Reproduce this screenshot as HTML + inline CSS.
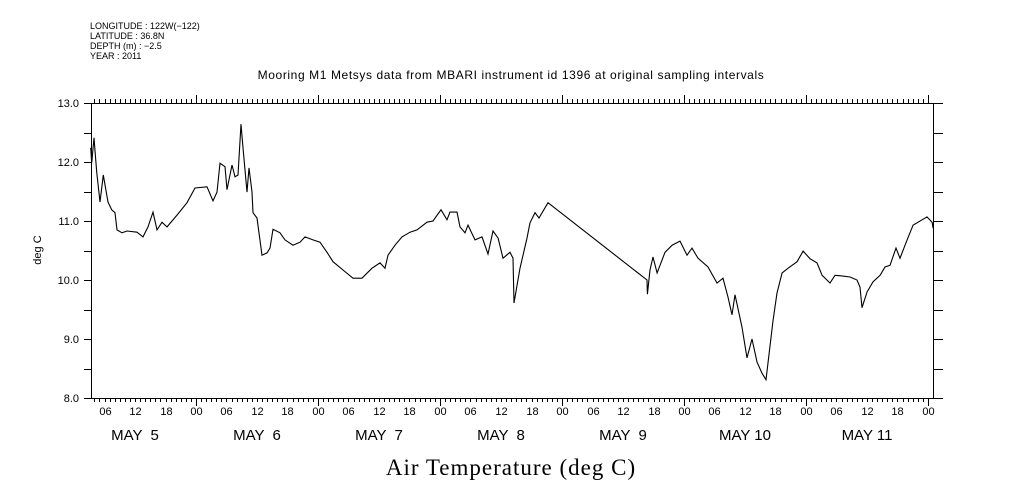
<!DOCTYPE html>
<html><head><meta charset="utf-8"><style>
body{margin:0;background:#fff;}
svg{display:block;font-family:"Liberation Sans",sans-serif;}
</style></head><body>
<svg id="chart" width="1009" height="504" viewBox="0 0 1009 504">
<g font-size="9" fill="#000">
<text x="90" y="29">LONGITUDE : 122W(−122)</text>
<text x="90" y="39">LATITUDE : 36.8N</text>
<text x="90" y="49">DEPTH (m) : −2.5</text>
<text x="90" y="59">YEAR : 2011</text>
</g>
<text x="511" y="79" font-size="12" text-anchor="middle" letter-spacing="0.6">Mooring M1 Metsys data from MBARI instrument id 1396 at original sampling intervals</text>
<text x="41" y="250" font-size="11" text-anchor="middle" transform="rotate(-90 41 250)">deg C</text>
<text x="511" y="475" font-size="23" text-anchor="middle" font-family="Liberation Serif, serif" letter-spacing="1">Air Temperature (deg C)</text>
<g id="axes"></g>
<g id="series"></g>
</svg>
<script>
const times=[3.29,3.48,3.93,4.47,5.12,5.76,6.69,7.42,8.07,8.46,9.44,10.43,12.39,13.57,14.56,15.54,16.33,17.31,18.30,20.26,22.23,23.80,26.17,27.35,28.13,28.72,29.71,30.10,31.08,31.67,32.26,32.85,33.25,34.03,34.43,35.02,35.21,36.00,36.99,37.97,38.56,39.15,40.53,41.51,43.08,44.46,45.44,47.02,48.40,49.77,50.95,52.92,54.89,56.66,58.63,60.20,61.18,61.77,63.15,64.53,66.10,67.48,69.45,70.63,72.20,73.38,73.97,75.35,75.94,76.92,77.51,78.89,80.27,81.45,82.43,83.42,84.40,85.78,86.37,86.56,87.74,89.12,89.71,90.69,91.48,93.25,112.73,112.8,113.32,113.91,114.70,116.27,117.65,119.22,120.60,121.58,122.76,124.73,126.50,127.68,128.66,129.45,130.04,131.41,132.40,133.38,134.37,135.35,136.14,137.52,138.30,139.29,140.47,142.24,143.42,144.80,146.17,147.16,148.73,149.71,151.09,152.66,154.04,154.63,155.02,156.01,157.19,158.57,159.55,160.53,161.71,162.50,163.88,165.06,166.83,167.81,168.80,169.0];
const temps=[12.24,11.98,12.41,11.83,11.32,11.78,11.32,11.19,11.14,10.85,10.80,10.83,10.81,10.73,10.90,11.15,10.85,10.98,10.90,11.10,11.31,11.56,11.58,11.34,11.49,11.98,11.92,11.53,11.95,11.75,11.78,12.64,12.24,11.49,11.90,11.49,11.14,11.05,10.42,10.46,10.54,10.86,10.80,10.68,10.59,10.64,10.73,10.68,10.64,10.47,10.31,10.17,10.03,10.03,10.20,10.29,10.20,10.42,10.59,10.73,10.81,10.85,10.98,11.00,11.19,11.02,11.15,11.15,10.90,10.80,10.93,10.68,10.73,10.44,10.83,10.71,10.37,10.47,10.37,9.61,10.20,10.71,10.97,11.14,11.05,11.31,10.00,9.76,10.17,10.39,10.12,10.47,10.59,10.66,10.42,10.54,10.37,10.22,9.95,10.03,9.71,9.41,9.75,9.20,8.68,9.00,8.61,8.42,8.31,9.32,9.78,10.12,10.20,10.31,10.49,10.36,10.29,10.08,9.95,10.08,10.07,10.05,10.00,9.88,9.53,9.80,9.97,10.08,10.22,10.25,10.54,10.37,10.68,10.93,11.02,11.07,10.98,10.88];
const yTickLabels=["8.0","9.0","10.0","11.0","12.0","13.0"];
const yTickValues=[8,9,10,11,12,13];
const dayLabels=["MAY  5","MAY  6","MAY  7","MAY  8","MAY  9","MAY 10","MAY 11"];
const hourLabels=["00","06","12","18"];

const NS="http://www.w3.org/2000/svg";
const L=91,R=933,T=103,B=398;
const tMin=(L-74)/(122/24), tMax=(R-74)/(122/24);
const vMin=8,vMax=13;
function xs(t){return L+(t-tMin)/(tMax-tMin)*(R-L);}
function ys(v){return B-(v-vMin)/(vMax-vMin)*(B-T);}
const axes=document.getElementById('axes');
function line(x1,y1,x2,y2,name){const e=document.createElementNS(NS,'line');
e.setAttribute('x1',x1);e.setAttribute('y1',y1);e.setAttribute('x2',x2);e.setAttribute('y2',y2);
e.setAttribute('stroke','#000');e.setAttribute('stroke-width','1');


axes.appendChild(e);return e;}
function text(x,y,s,size,anchor,name){const e=document.createElementNS(NS,'text');
e.setAttribute('x',x);e.setAttribute('y',y);e.setAttribute('font-size',size);e.setAttribute('text-anchor',anchor);
e.textContent=s;


axes.appendChild(e);return e;}
const frame=document.createElementNS(NS,'rect');
frame.setAttribute('x',L+0.5);frame.setAttribute('y',T+0.5);frame.setAttribute('width',R-L);frame.setAttribute('height',B-T);
frame.setAttribute('fill','none');frame.setAttribute('stroke','#000');


axes.appendChild(frame);
// y ticks every 0.5
for(let v=vMin;v<=vMax+1e-9;v+=0.5){const y=Math.round(ys(v))+0.5;
line(L-7,y,L+0.5,y,'y-tick-left');line(R+0.5,y,R+10,y,'y-tick-right');}
yTickValues.forEach((v,i)=>text(79,ys(v)+4,yTickLabels[i],11,'end','y-tick-label'));
// x ticks hourly
for(let h=Math.ceil(tMin);h<=tMax;h++){const x=Math.round(xs(h))+0.5;const maj=h%24===0;
line(x,T+0.5,x,T-(maj?8:4),'x-tick-top');line(x,B+0.5,x,B+(maj?8:4),'x-tick-bottom');
if(h%6===0)text(x,415,hourLabels[(h%24)/6],11,'middle','x-hour-label');}
dayLabels.forEach((d,i)=>{const e=text(xs(i*24+12),440,d,15,'middle','x-day-label');e.setAttribute('xml:space','preserve');e.style.whiteSpace='pre';});
// series
const p=document.createElementNS(NS,'path');
p.setAttribute('d',times.map((t,i)=>(i?'L':'M')+xs(t).toFixed(1)+','+ys(temps[i]).toFixed(1)).join(''));
p.setAttribute('fill','none');p.setAttribute('stroke','#000');p.setAttribute('stroke-width','1.1');


document.getElementById('series').appendChild(p);
</script>
</body></html>
